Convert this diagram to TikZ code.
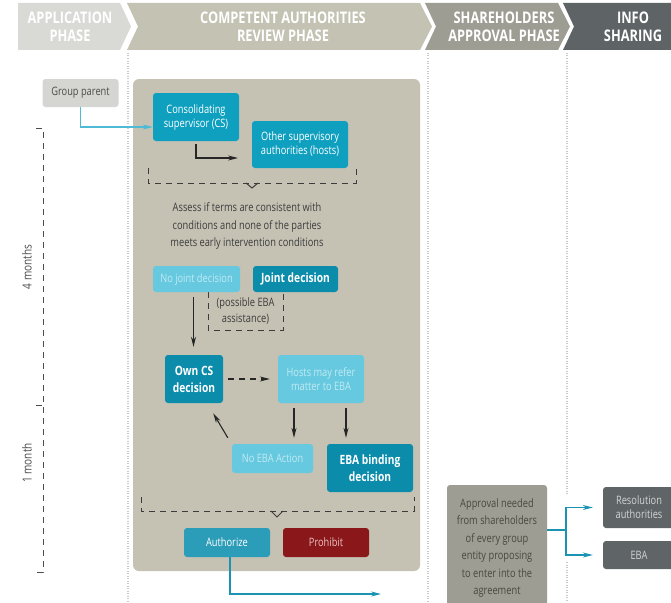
\documentclass[tikz,border=0pt]{standalone}
\usepackage{fontspec}
\setmainfont{Open Sans}[FakeStretch=0.8]
\usetikzlibrary{arrows.meta,calc}

\definecolor{hdrA}{HTML}{D9D9D5}
\definecolor{hdrB}{HTML}{C4C2B2}
\definecolor{hdrC}{HTML}{9E9D94}
\definecolor{hdrD}{HTML}{5E6366}
\definecolor{panel}{HTML}{C5C2B4}
\definecolor{tealA}{HTML}{0FA0C0}
\definecolor{tealB}{HTML}{0B8CAB}
\definecolor{paleblue}{HTML}{66C9DF}
\definecolor{paletext}{HTML}{C2EAF3}
\definecolor{redbox}{HTML}{8A1719}
\definecolor{redtext}{HTML}{EBC3C3}
\definecolor{gpfill}{HTML}{D5D5D1}
\definecolor{apprfill}{HTML}{9E9D93}
\definecolor{apprtext}{HTML}{48483F}
\definecolor{darkbox}{HTML}{5F6466}
\definecolor{darktext}{HTML}{D2D5D6}
\definecolor{linkblue}{HTML}{4DBBD5}
\definecolor{flowblue}{HTML}{1A94B2}
\definecolor{ink}{HTML}{3C3C3C}
\definecolor{guide}{HTML}{C9C9C9}

\begin{document}
\begin{tikzpicture}[x=1pt,y=-1pt,
  hdrtext/.style={text=white,font=\fontsize{16}{18}\selectfont\bfseries,align=center},
  card/.style={rounded corners=3pt,align=center,inner sep=1pt,
    font=\fontsize{11.6}{14}\selectfont},
  darkcard/.style={card,fill=tealB,text=white,font=\fontsize{12.8}{17}\selectfont\bfseries},
  midcard/.style={card,fill=tealA,text=white},
  lightcard/.style={card,fill=paleblue,text=paletext},
  note/.style={text=ink,align=center,font=\fontsize{11.6}{17.5}\selectfont},
  arr/.style={draw=black!85,line width=1.1pt,-{Stealth[length=10pt,width=5pt]}},
  dasharr/.style={arr,dash pattern=on 6pt off 5pt},
  bracket/.style={draw=ink,line width=1pt,dash pattern=on 6pt off 5pt},
  bluearr/.style={line width=1.2pt,-{Stealth[length=10pt,width=5pt]}},
  sep/.style={draw=guide,line width=1.2pt,dash pattern=on 1pt off 1.5pt},
  timelabel/.style={rotate=90,text=black!70,font=\fontsize{12.5}{14}\selectfont}
]
\useasboundingbox (0,0) rectangle (671,602);
\fill[white] (0,0) rectangle (671,602);

% phase banners
\fill[hdrA] (18,3) -- (120,3) -- (131,26.5) -- (120,50) -- (18,50) -- cycle;
\fill[hdrB] (127,3) -- (420,3) -- (432,26.5) -- (420,50) -- (127,50) -- (138,26.5) -- cycle;
\fill[hdrC] (425,3) -- (558,3) -- (570,26.5) -- (558,50) -- (425,50) -- (436,26.5) -- cycle;
\fill[hdrD] (563,3) -- (675,3) -- (675,50) -- (563,50) -- (574,26.5) -- cycle;
\node[hdrtext] (hA) at (70,26.5) {APPLICATION\\PHASE};
\node[hdrtext] (hB) at (283,26.5) {COMPETENT AUTHORITIES\\REVIEW PHASE};
\node[hdrtext] (hC) at (504,26.5) {SHAREHOLDERS\\APPROVAL PHASE};
\node[hdrtext] (hD) at (633,26.5) {INFO\\SHARING};

% phase separators
\draw[sep] (128,53) -- (128,602);
\draw[sep] (428,53) -- (428,602);
\draw[sep] (567,53) -- (567,494);
\draw[sep] (567,562) -- (567,602);

% timeline
\draw[bracket,draw=black!70] (36,128) -- (43,128) -- (43,572) -- (36,572);
\draw[bracket,draw=black!70] (36,405) -- (43,405);
\node[timelabel] (t4) at (27,267) {4 months};
\node[timelabel] (t1) at (27,463) {1 month};

% review panel
\fill[panel,rounded corners=6pt] (133,79) rectangle (420,571);

% nodes
\node[card,fill=gpfill,text=black!70,minimum width=76pt,minimum height=28pt] (gp) at (80.5,93) {Group parent};
\node[midcard,minimum width=86pt,minimum height=48pt] (cs) at (196,117) {Consolidating\\supervisor (CS)};
\node[midcard,minimum width=96pt,minimum height=47pt] (oth) at (300,144.5) {Other supervisory\\authorities (hosts)};

\node[note] (assess) at (247,226) {Assess if terms are consistent with\\conditions and none of the parties\\meets early intervention conditions};

\draw[bracket] (208,292) -- (208,330) -- (283,330) -- (283,292);
\node[lightcard,minimum width=87pt,minimum height=26pt] (nj) at (196.5,279) {No joint decision};
\node[darkcard,minimum width=85pt,minimum height=26pt] (jd) at (295.5,279) {Joint decision};
\node[note,font=\fontsize{11.6}{16}\selectfont] (eba1) at (245.5,311) {(possible EBA\\assistance)};

\node[darkcard,minimum width=58pt,minimum height=48pt] (own) at (194,379) {Own CS\\decision};
\node[lightcard,minimum width=86pt,minimum height=48pt] (hosts) at (321,379) {Hosts may refer\\matter to EBA};
\node[lightcard,minimum width=81pt,minimum height=29pt] (noeba) at (272.5,458.5) {No EBA Action};
\node[darkcard,minimum width=86pt,minimum height=48pt] (ebab) at (370,468) {EBA binding\\decision};

\node[midcard,fill=flowblue!92,minimum width=86pt,minimum height=29pt] (auth) at (227,542.5) {Authorize};
\node[card,fill=redbox,text=redtext,minimum width=86pt,minimum height=29pt] (proh) at (326,542.5) {Prohibit};

\node[card,fill=apprfill,text=apprtext,minimum width=100pt,minimum height=126pt,
  font=\fontsize{11.6}{17.4}\selectfont] (appr) at (497,548) {Approval needed\\from shareholders\\of every group\\entity proposing\\to enter into the\\agreement};
\node[card,fill=darkbox,text=darktext,minimum width=72pt,minimum height=41pt] (res) at (639,507.5) {Resolution\\authorities};
\node[card,fill=darkbox,text=darktext,minimum width=72pt,minimum height=28pt] (eba) at (639,555) {EBA};

% brackets gathering the outcomes
\draw[bracket] (148,168) -- (148,183) -- (356,183) -- (356,168);
\draw[draw=ink,line width=1pt] (246,183) -- (252,188) -- (258,183);
\draw[bracket] (141,497) -- (141,511) -- (414,511) -- (414,497);
\draw[draw=ink,line width=1pt] (271,511) -- (277,517) -- (283,511);

% connectors
\coordinate (csend) at (238,158);
\coordinate (authend) at (381,594);
\coordinate (split) at (566,530);

\draw[bluearr,draw=linkblue] (gp.south) |- ($(cs.west)+(0,10)$);
\draw[arr,shorten <=3pt] (cs.south) |- (csend);
\draw[arr,shorten <=5pt,shorten >=8pt] ([xshift=-3pt]nj.south) -- ([xshift=-3pt]nj.south |- own.north);
\draw[dasharr,shorten <=5pt,shorten >=8pt] (own.east) -- (hosts.west);
\draw[arr,shorten <=5pt,shorten >=6pt] ([xshift=-27pt]hosts.south) -- ([xshift=-27pt]hosts.south |- noeba.north);
\draw[arr,shorten <=5pt,shorten >=6pt] ([xshift=25pt]hosts.south) -- ([xshift=25pt]hosts.south |- ebab.north);
\draw[arr] ([xshift=-4pt,yshift=6pt]noeba.north west) -- ([xshift=-10pt,yshift=-10pt]own.south east);
\draw[bluearr,draw=flowblue] ([xshift=3pt]auth.south) |- (authend);
\draw[line width=1.2pt,draw=flowblue] (appr.east |- split) -- (split);
\draw[bluearr,draw=flowblue,shorten >=10pt] (split) |- (res.west);
\draw[bluearr,draw=flowblue,shorten >=10pt] (split) |- (eba.west);
\end{tikzpicture}
\end{document}
